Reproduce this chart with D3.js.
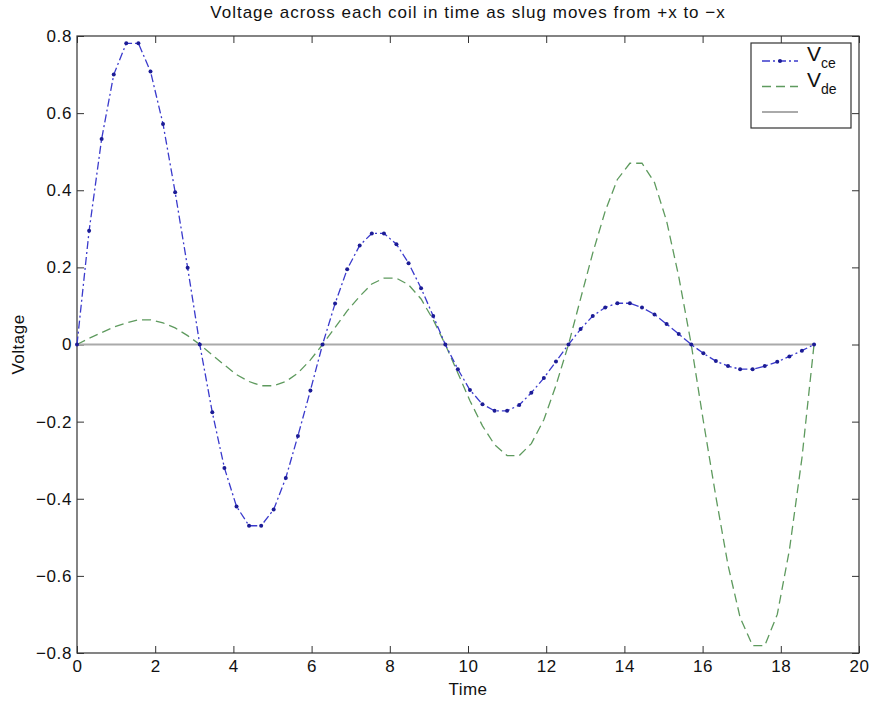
<!DOCTYPE html>
<html>
<head>
<meta charset="utf-8">
<script src="https://cdn.jsdelivr.net/npm/d3@7"></script>
<style>
  body { margin: 0; background: #fff; }
  svg { font-family: "Liberation Sans", Arial, sans-serif; }
</style>
</head>
<body>
<div id="chart"></div>
<script>
// sample times
var time = [0, 0.31, 0.63, 0.94, 1.26, 1.57, 1.88, 2.20, 2.51, 2.83,
  3.14, 3.46, 3.77, 4.08, 4.40, 4.71, 5.03, 5.34, 5.65, 5.97,
  6.28, 6.60, 6.91, 7.23, 7.54, 7.85, 8.17, 8.48, 8.80, 9.11,
  9.42, 9.74, 10.05, 10.37, 10.68, 11.00, 11.31, 11.62, 11.94, 12.25,
  12.57, 12.88, 13.19, 13.51, 13.82, 14.14, 14.45, 14.77, 15.08, 15.39,
  15.71, 16.02, 16.34, 16.65, 16.96, 17.28, 17.59, 17.91, 18.22, 18.54,
  18.85];

var vce = [0, 0.295, 0.533, 0.700, 0.781, 0.781, 0.708, 0.572, 0.395, 0.199,
  0, -0.176, -0.320, -0.420, -0.470, -0.470, -0.428, -0.346, -0.237, -0.119,
  0, 0.106, 0.195, 0.257, 0.288, 0.288, 0.260, 0.211, 0.146, 0.074,
  0, -0.064, -0.118, -0.155, -0.172, -0.172, -0.157, -0.125, -0.087, -0.044,
  0, 0.040, 0.074, 0.096, 0.107, 0.107, 0.096, 0.078, 0.053, 0.027,
  0, -0.023, -0.043, -0.056, -0.064, -0.064, -0.056, -0.045, -0.031, -0.016,
  0];

var vde = [0, 0.016, 0.031, 0.045, 0.056, 0.064, 0.064, 0.056, 0.043, 0.023,
  0, -0.027, -0.053, -0.078, -0.096, -0.107, -0.107, -0.096, -0.074, -0.040,
  0, 0.044, 0.087, 0.125, 0.157, 0.172, 0.172, 0.155, 0.118, 0.064,
  0, -0.074, -0.146, -0.211, -0.260, -0.288, -0.288, -0.257, -0.195, -0.106,
  0, 0.119, 0.237, 0.346, 0.428, 0.470, 0.470, 0.420, 0.320, 0.176,
  0, -0.199, -0.395, -0.572, -0.708, -0.781, -0.781, -0.700, -0.533, -0.295,
  0];

// flat reference line
var zeroLineX = [0, 18.85];
var zeroLineY = [0, 0];

var xTicks = [0, 2, 4, 6, 8, 10, 12, 14, 16, 18, 20];
var yTicks = [-0.8, -0.6, -0.4, -0.2, 0, 0.2, 0.4, 0.6, 0.8];

var width = 875, height = 708;
var margin = {left: 77, right: 16, top: 36, bottom: 55};

var svg = d3.select("#chart").append("svg")
    .attr("width", width)
    .attr("height", height);

var x = d3.scaleLinear().domain([0, 20]).range([margin.left, width - margin.right]);
var y = d3.scaleLinear().domain([-0.8, 0.8]).range([height - margin.bottom, margin.top]);

function fmt(v) {
    if (v === 0) return "0";
    return (v < 0 ? "\u2212" : "") + Math.abs(v).toString();
}

// axes, matlab style: ticks pointing inwards on every side
var axColor = "#333";
var tk = 7;

var gx = svg.append("g").attr("transform", "translate(0," + y(-0.8) + ")")
    .call(d3.axisBottom(x).tickValues(xTicks).tickSize(-tk).tickSizeOuter(0).tickPadding(7).tickFormat(fmt));
var gxt = svg.append("g").attr("transform", "translate(0," + y(0.8) + ")")
    .call(d3.axisTop(x).tickValues(xTicks).tickSize(-tk).tickSizeOuter(0).tickFormat(""));
var gy = svg.append("g").attr("transform", "translate(" + x(0) + ",0)")
    .call(d3.axisLeft(y).tickValues(yTicks).tickSize(-tk).tickSizeOuter(0).tickPadding(5).tickFormat(fmt));
var gyr = svg.append("g").attr("transform", "translate(" + x(20) + ",0)")
    .call(d3.axisRight(y).tickValues(yTicks).tickSize(-tk).tickSizeOuter(0).tickFormat(""));

[gx, gxt, gy, gyr].forEach(function(g) {
    g.select(".domain").remove();
    g.selectAll("line").attr("stroke", axColor);
    g.selectAll("text").attr("fill", "#111").style("font-size", "17px")
        .style("letter-spacing", "0.6px")
        .style("font-family", "'Liberation Sans', Arial, sans-serif");
});

svg.append("rect")
    .attr("x", x(0)).attr("y", y(0.8))
    .attr("width", x(20) - x(0)).attr("height", y(-0.8) - y(0.8))
    .attr("fill", "none").attr("stroke", axColor).attr("stroke-width", 1.2);

var line = d3.line()
    .x(function(d) { return x(d[0]); })
    .y(function(d) { return y(d[1]); });

// gray zero line
svg.append("path")
    .attr("d", line(d3.zip(zeroLineX, zeroLineY)))
    .attr("fill", "none").attr("stroke", "#aaa").attr("stroke-width", 2);

// Vde
svg.append("path")
    .attr("d", line(d3.zip(time, vde)))
    .attr("fill", "none").attr("stroke", "#5e9a5e").attr("stroke-width", 1.3)
    .attr("stroke-dasharray", "9,5");

// Vce
svg.append("path")
    .attr("d", line(d3.zip(time, vce)))
    .attr("fill", "none").attr("stroke", "#3a3acc").attr("stroke-width", 1.3)
    .attr("stroke-dasharray", "8,3,2,3");

svg.selectAll("circle.mk")
    .data(d3.zip(time, vce))
    .enter().append("circle")
    .attr("class", "mk")
    .attr("cx", function(d) { return x(d[0]); })
    .attr("cy", function(d) { return y(d[1]); })
    .attr("r", 2)
    .attr("fill", "#1c1c96");

// titles
svg.append("text")
    .attr("x", (x(0) + x(20)) / 2).attr("y", 18)
    .attr("text-anchor", "middle").style("font-size", "17px").style("letter-spacing", "1px")
    .attr("fill", "#111")
    .text("Voltage across each coil in time as slug moves from +x to \u2212x");

svg.append("text")
    .attr("x", (x(0) + x(20)) / 2).attr("y", 695)
    .attr("text-anchor", "middle").style("font-size", "17px").style("letter-spacing", "0.5px")
    .attr("fill", "#111")
    .text("Time");

svg.append("text")
    .attr("transform", "translate(24," + y(0) + ") rotate(-90)")
    .attr("text-anchor", "middle").style("font-size", "17px").style("letter-spacing", "0.5px")
    .attr("fill", "#111")
    .text("Voltage");

// legend
var lg = svg.append("g");
lg.append("rect")
    .attr("x", 751).attr("y", 43).attr("width", 100).attr("height", 85)
    .attr("fill", "#fff").attr("stroke", axColor).attr("stroke-width", 1.2);

var legendItems = [
    {sub: "ce", color: "#3a3acc", dash: "8,3,2,3", marker: true, w: 1.3},
    {sub: "de", color: "#5e9a5e", dash: "9,5", marker: false, w: 1.3},
    {sub: null, color: "#aaa", dash: null, marker: false, w: 2}
];
legendItems.forEach(function(it, i) {
    var ly = 61 + i * 25.5;
    lg.append("line")
        .attr("x1", 762).attr("x2", 798).attr("y1", ly).attr("y2", ly)
        .attr("stroke", it.color).attr("stroke-width", it.w)
        .attr("stroke-dasharray", it.dash);
    if (it.marker) {
        lg.append("circle").attr("cx", 780).attr("cy", ly).attr("r", 2).attr("fill", "#1c1c96");
    }
    if (it.sub) {
        var t = lg.append("text").attr("x", 807).attr("y", ly).attr("fill", "#111");
        t.append("tspan").style("font-size", "21px").text("V");
        t.append("tspan").style("font-size", "14px").attr("dy", 7).text(it.sub);
    }
});
</script>
</body>
</html>
